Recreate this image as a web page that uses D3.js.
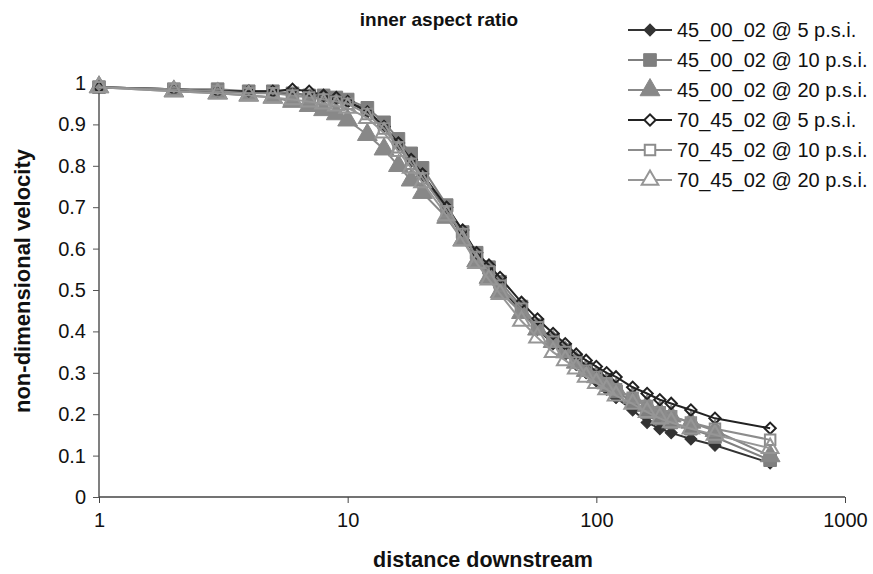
<!DOCTYPE html>
<html><head><meta charset="utf-8">
<script src="https://cdn.jsdelivr.net/npm/d3@7/dist/d3.min.js"></script>
<style>body{margin:0;background:#fff}svg{display:block}text{font-family:"Liberation Sans",Arial,sans-serif}</style>
</head><body><svg id="c" width="873" height="574"></svg>
<script>
const xValues = [1,2,3,4,5,6,7,8,9,10,12,14,16,18,20,25,29,33,37,41,50,58,67,75,83,91,100,110,120,140,160,180,200,240,300,500];
const seriesNames = ["45_00_02 @ 5 p.s.i.","45_00_02 @ 10 p.s.i.","45_00_02 @ 20 p.s.i.","70_45_02 @ 5 p.s.i.","70_45_02 @ 10 p.s.i.","70_45_02 @ 20 p.s.i."];
const s45_5  = [0.99,0.985,0.98,0.98,0.975,0.975,0.97,0.965,0.96,0.955,0.935,0.895,0.85,0.81,0.775,0.69,0.63,0.58,0.54,0.505,0.45,0.405,0.37,0.345,0.32,0.30,0.28,0.26,0.24,0.21,0.18,0.165,0.155,0.14,0.125,0.082];
const s45_10 = [0.99,0.985,0.985,0.98,0.98,0.975,0.97,0.97,0.965,0.96,0.94,0.905,0.865,0.83,0.795,0.705,0.64,0.59,0.555,0.52,0.46,0.415,0.38,0.355,0.33,0.31,0.29,0.27,0.255,0.23,0.205,0.19,0.18,0.165,0.145,0.089];
const s45_20 = [0.99,0.98,0.975,0.97,0.965,0.955,0.945,0.935,0.925,0.91,0.875,0.84,0.80,0.765,0.735,0.675,0.62,0.57,0.53,0.495,0.445,0.405,0.375,0.35,0.325,0.305,0.29,0.275,0.26,0.24,0.22,0.205,0.195,0.18,0.16,0.099];
const s70_5  = [0.99,0.985,0.98,0.98,0.98,0.985,0.98,0.97,0.965,0.955,0.93,0.895,0.855,0.815,0.78,0.70,0.645,0.59,0.56,0.53,0.47,0.43,0.395,0.37,0.345,0.33,0.315,0.30,0.29,0.265,0.25,0.235,0.226,0.21,0.19,0.166];
const s70_10 = [0.99,0.985,0.98,0.975,0.975,0.97,0.965,0.96,0.955,0.95,0.925,0.89,0.845,0.805,0.77,0.69,0.635,0.58,0.545,0.51,0.455,0.41,0.375,0.35,0.325,0.305,0.29,0.275,0.26,0.24,0.22,0.205,0.195,0.18,0.165,0.138];
const s70_20 = [0.99,0.98,0.975,0.97,0.965,0.96,0.955,0.95,0.945,0.94,0.915,0.88,0.835,0.795,0.76,0.68,0.62,0.565,0.525,0.49,0.425,0.385,0.35,0.33,0.31,0.29,0.275,0.26,0.245,0.225,0.205,0.19,0.18,0.165,0.15,0.118];
const yTicks = [0,0.1,0.2,0.3,0.4,0.5,0.6,0.7,0.8,0.9,1];
const xTicks = [1,10,100,1000];

const styles = [
  {color:"#333333", shape:"diamond", filled:true},
  {color:"#7f7f7f", shape:"square", filled:true},
  {color:"#888888", shape:"triangle", filled:true},
  {color:"#222222", shape:"diamond", filled:false},
  {color:"#8c8c8c", shape:"square", filled:false},
  {color:"#969696", shape:"triangle", filled:false}
];
const allValues = [s45_5,s45_10,s45_20,s70_5,s70_10,s70_20];

const svg = d3.select("#c");
const x = d3.scaleLog().domain([1,1000]).range([99,845]);
const y = d3.scaleLinear().domain([0,1]).range([497,83]);

function markerPath(shape, filled){
  if(shape==="diamond") return d3.symbol().type(d3.symbolSquare).size(filled?72:64)();
  if(shape==="square") return d3.symbol().type(d3.symbolSquare).size(filled?160:110)();
  return d3.symbol().type(d3.symbolTriangle).size(filled?170:120)();
}
function markerTransform(shape, px, py){
  return shape==="diamond" ? `translate(${px},${py}) rotate(45)` : `translate(${px},${py})`;
}

// axes
const yAxis = svg.append("g").attr("transform","translate(99,0)")
  .call(d3.axisLeft(y).tickValues(yTicks).tickFormat(d=>String(+d.toFixed(1))).tickSize(6).tickPadding(7));
yAxis.select(".domain").attr("stroke","#808080").attr("stroke-width",2).attr("d","M0,497V83");
yAxis.selectAll(".tick line").attr("stroke","#555");
yAxis.selectAll(".tick text").attr("font-size",20).attr("fill","#111");

const xAxis = svg.append("g").attr("transform","translate(0,497)")
  .call(d3.axisBottom(x).tickValues(xTicks).tickFormat(d3.format("d")).tickSize(6).tickPadding(10));
xAxis.select(".domain").attr("stroke","#444").attr("stroke-width",1.5).attr("d","M99,0H845");
xAxis.selectAll(".tick line").attr("stroke","#444");
xAxis.selectAll(".tick text").attr("font-size",20).attr("fill","#111");

// series
const line = d3.line().x((d,i)=>x(xValues[i])).y(d=>y(d));
allValues.forEach((vals,k)=>{
  const st = styles[k];
  const g = svg.append("g");
  g.append("path").datum(vals).attr("d",line).attr("fill","none").attr("stroke",st.color).attr("stroke-width",2);
  g.selectAll("path.m").data(vals).enter().append("path").attr("class","m")
    .attr("d",markerPath(st.shape,st.filled))
    .attr("transform",(d,i)=>markerTransform(st.shape,x(xValues[i]),y(d)))
    .attr("fill",st.filled?st.color:"none")
    .attr("stroke",st.color).attr("stroke-width",st.filled?1:2);
});

// titles
svg.append("text").attr("x",439).attr("y",26).attr("text-anchor","middle").attr("font-size",19).attr("font-weight","bold").attr("fill","#111").text("inner aspect ratio");
svg.append("text").attr("x",483).attr("y",567).attr("text-anchor","middle").attr("font-size",21.5).attr("font-weight","bold").attr("fill","#111").text("distance downstream");
svg.append("text").attr("transform","translate(30,281) rotate(-90)").attr("text-anchor","middle").attr("font-size",22).attr("font-weight","bold").attr("fill","#111").text("non-dimensional velocity");

// legend
const lg = svg.append("g");
seriesNames.forEach((name,k)=>{
  const st = styles[k];
  const ly = 30 + k*30;
  lg.append("line").attr("x1",628).attr("x2",672).attr("y1",ly).attr("y2",ly).attr("stroke",st.color).attr("stroke-width",2);
  lg.append("path").attr("d",markerPath(st.shape,st.filled)).attr("transform",markerTransform(st.shape,650,ly))
    .attr("fill",st.filled?st.color:"#fff").attr("stroke",st.color).attr("stroke-width",st.filled?1:2);
  lg.append("text").attr("x",677).attr("y",ly+7).attr("font-size",20).attr("fill","#111").text(name);
});
</script></body></html>
